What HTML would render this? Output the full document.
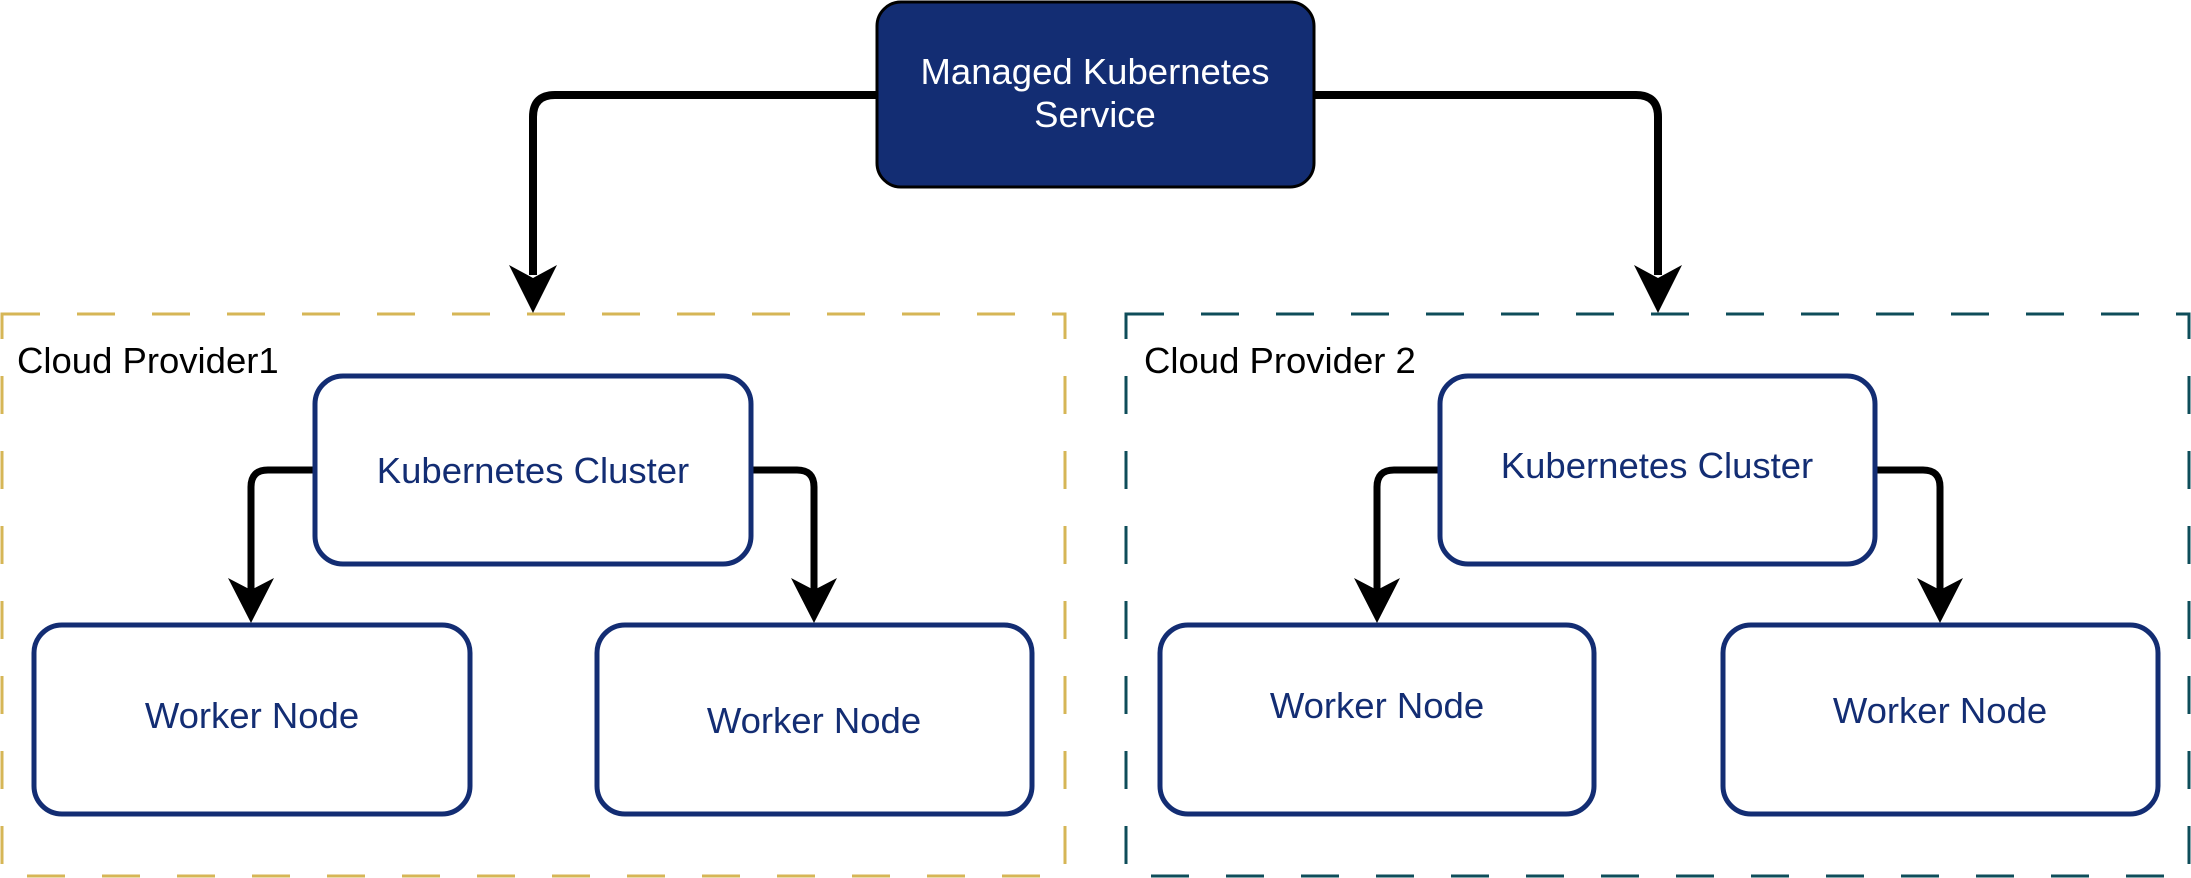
<!DOCTYPE html>
<html><head><meta charset="utf-8"><style>
html,body{margin:0;padding:0;background:#fff;}
svg{display:block;}
text{font-family:"Liberation Sans",Arial,sans-serif;font-size:36.5px;}
</style></head><body>
<svg width="2191" height="878" viewBox="0 0 2191 878" xmlns="http://www.w3.org/2000/svg">
<!-- containers -->
<rect x="2" y="314" width="1063" height="562" fill="none" stroke="#d6b656" stroke-width="3" stroke-dasharray="38 37"/>
<rect x="1126" y="314" width="1063" height="562" fill="none" stroke="#0e4d5a" stroke-width="3" stroke-dasharray="38 37"/>
<text x="17" y="373" fill="#000">Cloud Provider1</text>
<text x="1144" y="373" fill="#000">Cloud Provider 2</text>

<!-- top connectors -->
<path d="M877 95 H555 Q533 95 533 117 V275" fill="none" stroke="#000" stroke-width="8"/>
<path d="M1314 95 H1636 Q1658 95 1658 117 V275" fill="none" stroke="#000" stroke-width="8"/>
<polygon points="533,313 509,265 533,278 557,265" fill="#000"/>
<polygon points="1658,313 1634,265 1658,278 1682,265" fill="#000"/>

<!-- managed box -->
<rect x="877" y="2" width="437" height="185" rx="24" fill="#132d73" stroke="#000" stroke-width="3"/>
<text x="1095" y="84" fill="#fff" text-anchor="middle">Managed Kubernetes</text>
<text x="1095" y="127" fill="#fff" text-anchor="middle">Service</text>

<!-- cluster connectors -->
<g fill="none" stroke="#000" stroke-width="7">
<path d="M315 470 H268 Q251 470 251 487 V590"/>
<path d="M751 470 H797 Q814 470 814 487 V590"/>
<path d="M1440 470 H1394 Q1377 470 1377 487 V590"/>
<path d="M1875 470 H1923 Q1940 470 1940 487 V590"/>
</g>
<g fill="#000">
<polygon points="251,623 228,578 251,590 274,578"/>
<polygon points="814,623 791,578 814,590 837,578"/>
<polygon points="1377,623 1354,578 1377,590 1400,578"/>
<polygon points="1940,623 1917,578 1940,590 1963,578"/>
</g>

<!-- clusters -->
<g fill="#fff" stroke="#132d73" stroke-width="5">
<rect x="315" y="376" width="436" height="188" rx="28"/>
<rect x="1440" y="376" width="435" height="188" rx="28"/>
<rect x="34" y="625" width="436" height="189" rx="28"/>
<rect x="597" y="625" width="435" height="189" rx="28"/>
<rect x="1160" y="625" width="434" height="189" rx="28"/>
<rect x="1723" y="625" width="435" height="189" rx="28"/>
</g>
<g fill="#132d73" text-anchor="middle">
<text x="533" y="483">Kubernetes Cluster</text>
<text x="1657" y="478">Kubernetes Cluster</text>
<text x="252" y="728">Worker Node</text>
<text x="814" y="733">Worker Node</text>
<text x="1377" y="718">Worker Node</text>
<text x="1940" y="723">Worker Node</text>
</g>
</svg>
</body></html>
